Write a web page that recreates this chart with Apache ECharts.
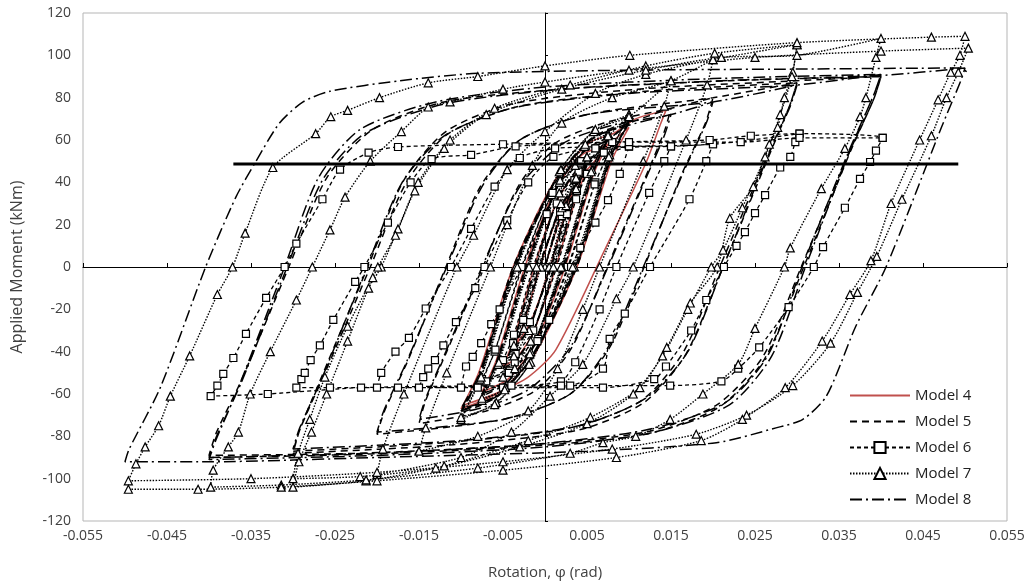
<!DOCTYPE html>
<html><head><meta charset="utf-8">
<script src="https://cdn.jsdelivr.net/npm/echarts/dist/echarts.min.js"></script>
<style>html,body{margin:0;padding:0;background:#fff}#c{width:1035px;height:587px}</style>
</head><body><div id="c"></div>
<script>
const xTicks = [-0.055,-0.045,-0.035,-0.025,-0.015,-0.005,0.005,0.015,0.025,0.035,0.045,0.055];
const modelNames = ['Model 4','Model 5','Model 6','Model 7','Model 8'];
const mpLine = [[-0.0371,48.7],[0.0492,48.7]];

const model4 = [
[0,0],[0.002,25],[0.0035,37],[0.0024,25],[0.0006,0],[-0.0017,-26],[-0.0035,-37],[-0.0024,-25],[-0.0006,0],[0.0017,26],[0.0035,37],
[0.005,46],[0.0037,33],[0.0013,0],[-0.0014,-31],[-0.0034,-43],[-0.005,-47],[-0.0037,-34],[-0.0013,0],[0.0014,31],[0.0034,43],[0.005,46],
[0.0075,58],[0.0058,44],[0.0024,0],[-0.0013,-37],[-0.0044,-53],[-0.0075,-59],[-0.0058,-44],[-0.0024,0],[0.0013,37],[0.0044,53],[0.0075,58],
[0.010,66],[0.0079,50],[0.0038,0],[-0.0012,-41],[-0.0054,-59],[-0.010,-67],[-0.0079,-50],[-0.0038,0],[0.0012,41],[0.0054,59],[0.0081,63],
[0.0108,70],[0.0144,74],[0.0138,68],[0.012,49],[0.0071,8],[0.0013,-39],[-0.002,-52],[-0.006,-60],[-0.0095,-65]
];

const model5 = [
[0,0],[0.002,27],[0.0038,40],[0.0026,27],[0.0007,0],[-0.0019,-29],[-0.0038,-40],[-0.0026,-27],[-0.0007,0],[0.0019,29],[0.0038,40],
[0.005,49],[0.0036,34],[0.0011,0],[-0.0016,-33],[-0.0036,-45],[-0.005,-49],[-0.0036,-34],[-0.0011,0],[0.0016,33],[0.0036,45],[0.005,49],
[0.0075,61],[0.0056,44],[0.0021,0],[-0.0016,-39],[-0.0046,-55],[-0.0075,-61],[-0.0056,-44],[-0.0021,0],[0.0016,39],[0.0046,55],[0.0075,61],
[0.0058,45],[0.0023,0],[-0.0014,-38],[-0.0044,-54],[-0.0075,-60],[-0.0058,-45],[-0.0023,0],[0.0014,38],[0.0044,54],[0.0075,60],
[0.010,69],[0.0077,51],[0.0036,0],[-0.0016,-43],[-0.0056,-61],[-0.010,-69],[-0.0077,-51],[-0.0036,0],[0.0016,43],[0.0056,61],[0.010,69],
[0.0079,52],[0.0038,0],[-0.0014,-42],[-0.0054,-60],[-0.010,-68],[-0.0079,-52],[-0.0038,0],[0.0014,42],[0.0054,60],[0.010,68],
[0.015,75],[0.0142,64],[0.0117,40],[0.0074,0],[0.0032,-38],[-0.001,-58],[-0.007,-68],[-0.015,-74],[-0.0142,-63],[-0.0117,-40],[-0.0074,0],[-0.0032,38],[0.001,58],[0.007,68],[0.015,75],
[0.020,80],[0.0191,68],[0.0163,44],[0.0118,0],[0.0077,-38],[0.003,-60],[-0.005,-72],[-0.020,-79],[-0.0191,-68],[-0.0163,-44],[-0.0118,0],[-0.0077,38],[-0.003,60],[0.005,72],[0.020,80],
[0.030,87],[0.0291,76],[0.0262,50],[0.0208,0],[0.0165,-40],[0.0115,-63],[0.003,-76],[-0.012,-83],[-0.030,-87],[-0.0291,-76],[-0.0262,-50],[-0.0208,0],[-0.0165,40],[-0.0115,63],[-0.003,76],[0.012,83],[0.030,87],
[0.0292,77],[0.0265,51],[0.0212,0],[0.0168,-41],[0.0118,-64],[0.004,-77],[-0.011,-84],[-0.030,-88],[-0.0292,-77],[-0.0265,-51],[-0.0211,0],[-0.0168,41],[-0.0118,64],[-0.004,77],[0.011,84],[0.030,88],
[0.040,90],[0.0391,79],[0.0362,54],[0.0305,0],[0.026,-42],[0.0205,-65],[0.012,-78],[-0.002,-84],[-0.022,-88],[-0.040,-89],[-0.0391,-78],[-0.0362,-54],[-0.0305,0],[-0.026,42],[-0.0205,65],[-0.012,78],[0.002,84],[0.022,88],[0.040,90],
[0.0392,80],[0.0364,55],[0.0308,0],[0.0262,-43],[0.0208,-66],[0.012,-79],[-0.003,-85],[-0.022,-88.5],[-0.040,-90]
];

const model6 = [
[0,0],[0.002,24],[0.0038,36],[0.0026,25],[0.0008,0],[-0.0018,-26],[-0.0038,-36],[-0.0026,-25],[-0.0008,0],[0.0018,26],[0.0038,36],
[0.005,44],[0.0037,32],[0.0014,0],[-0.0014,-30],[-0.0035,-41],[-0.005,-44],[-0.0037,-32],[-0.0014,0],[0.0014,30],[0.0035,41],[0.005,44],
[0.0075,53],[0.006,40],[0.0028,0],[-0.0008,-34],[-0.0042,-49],[-0.0075,-53],[-0.006,-40],[-0.0028,0],[0.0008,34],[0.0042,49],[0.0075,53],
[0.0059,39],[0.0027,0],[-0.0009,-35],[-0.0043,-50],[-0.0075,-54],[-0.0059,-39],[-0.0027,0],[0.0009,35],[0.0043,50],[0.0075,54],
[0.010,57],[0.0089,44],[0.0075,31.6],[0.006,21],[0.0042,9],[0.0031,0],[0.0005,-25],[-0.0036,-45],[-0.007,-54],[-0.010,-57],
[-0.0094,-47],[-0.0086,-42.5],[-0.0076,-36],[-0.0064,-27],[-0.0054,-20],[-0.0028,0],[0.0002,25],[0.004,45],[0.007,54],[0.010,57],
[0.015,57],[0.0142,50],[0.0124,35],[0.0085,0],[0.0065,-20],[0.0036,-45],[0.0019,-54],[-0.004,-56],[-0.015,-57],
[-0.0145,-52],[-0.0139,-48],[-0.0131,-44],[-0.0121,-37],[-0.0106,-26],[-0.0083,-10],[-0.0072,0],[-0.0045,22],[-0.002,40],[0.001,52],[0.006,56],[0.015,57],
[0.020,58],[0.0192,50],[0.0172,32],[0.0125,0],[0.0095,-22],[0.0077,-34],[0.0069,-48],[0.003,-56],[-0.008,-57],[-0.020,-57],
[-0.0195,-50],[-0.0178,-40],[-0.0162,-33.5],[-0.0142,-19.6],[-0.0112,0],[-0.0088,18],[-0.006,38],[-0.003,51.5],[0.0012,56],[0.010,57],[0.020,58],
[0.0303,63],[0.0298,59],[0.0292,52],[0.028,47],[0.0262,34],[0.025,25.5],[0.0238,16.5],[0.0228,10],[0.0213,0],[0.0192,-15.6],[0.0174,-30],[0.0144,-47],[0.013,-53],[0.0069,-57],[-0.005,-57],[-0.0175,-57],[-0.0256,-57],[-0.0296,-57],
[-0.029,-53],[-0.0286,-50],[-0.0279,-44],[-0.0268,-37],[-0.0252,-25],[-0.0226,-7],[-0.0215,0],[-0.0187,21],[-0.016,40],[-0.0135,51],[-0.0088,53],[-0.0035,57],[0.008,59],[0.0196,60],[0.0245,62],[0.0303,63],
[0.0402,61],[0.0394,55],[0.0387,49.6],[0.0375,41.6],[0.0357,28],[0.0331,9.4],[0.032,0],[0.029,-19],[0.0255,-38],[0.023,-48],[0.021,-54],[0.0149,-56],[0.0019,-56],[-0.0219,-57],[-0.033,-60],[-0.0398,-61],
[-0.039,-56],[-0.0383,-50.5],[-0.0371,-43],[-0.0356,-31.6],[-0.0332,-14.6],[-0.031,0],[-0.0296,11],[-0.0265,32],[-0.0244,46],[-0.021,54],[-0.0175,56.7],[-0.005,58],[0.010,59],[0.0233,59],[0.0303,61],[0.0402,61]
];

const model7 = [
[0,0],[0.002,28],[0.0037,42],[0.0025,29],[0.0005,0],[-0.0019,-30],[-0.0037,-42],[-0.0025,-29],[-0.0005,0],[0.0019,30],[0.0037,42],
[0.005,52],[0.0037,37],[0.001,0],[-0.0017,-35],[-0.0036,-48],[-0.005,-52],[-0.0037,-37],[-0.001,0],[0.0017,35],[0.0036,48],[0.005,52],
[0.0075,63],[0.0056,46],[0.002,0],[-0.0017,-40],[-0.0047,-57],[-0.0075,-63],[-0.0056,-46],[-0.002,0],[0.0017,40],[0.0047,57],[0.0075,63],
[0.0055,45],[0.0019,0],[-0.0018,-41],[-0.0048,-58],[-0.0075,-62],[-0.0055,-45],[-0.0019,0],[0.0018,41],[0.0048,58],[0.0075,62],
[0.010,72],[0.0077,53],[0.0035,0],[-0.0017,-45],[-0.0058,-64],[-0.010,-72],[-0.0077,-53],[-0.0035,0],[0.0017,45],[0.0058,64],[0.010,72],
[0.0076,52],[0.0033,0],[-0.0019,-46],[-0.006,-65],[-0.010,-71],[-0.0076,-52],[-0.0033,0],[0.0019,46],[0.006,65],[0.010,71],
[0.015,88],[0.0142,76],[0.0117,50],[0.0065,0],[0.0045,-20],[0.0015,-48],[-0.002,-68],[-0.008,-80],[-0.015,-87],
[-0.0142,-76],[-0.0117,-50],[-0.0065,0],[-0.0045,20],[-0.0015,48],[0.002,68],[0.008,80],[0.015,88],
[0.020,98],[0.0193,86],[0.0168,60],[0.0105,0],[0.0085,-15],[0.0045,-46],[0.0006,-61],[-0.004,-78],[-0.010,-90],[-0.020,-98],
[-0.0193,-86],[-0.0168,-60],[-0.0105,0],[-0.0085,15],[-0.0045,46],[0,64],[0.006,82],[0.012,91],[0.020,98],
[0.030,105],[0.0295,92],[0.0285,80],[0.0277,66],[0.0267,58],[0.0248,38],[0.022,23],[0.0205,0],[0.0173,-17],[0.0145,-38],[0.0113,-57],[0.0054,-71],[-0.002,-82],[-0.012,-94],[-0.0213,-101],[-0.030,-104],
[-0.0293,-92],[-0.0278,-78],[-0.026,-60],[-0.0235,-35],[-0.021,-10],[-0.0195,0],[-0.0175,18],[-0.0151,40],[-0.0113,60],[-0.006,75],[0.003,86],[0.012,95],[0.0202,101],[0.030,105],
[0.0294,90],[0.028,72],[0.0262,52],[0.0235,28],[0.0212,8],[0.0198,0],[0.017,-20],[0.014,-42],[0.0105,-60],[0.005,-74],[-0.003,-85],[-0.013,-95],[-0.022,-99],[-0.030,-100],
[-0.0294,-88],[-0.028,-72],[-0.0262,-52],[-0.0235,-28],[-0.0205,-5],[-0.0199,0],[-0.0178,15],[-0.0155,36],[-0.012,56],[-0.007,72],[0.002,84],[0.012,93],[0.021,99],[0.030,100],
[0.040,108],[0.0394,99],[0.0382,80],[0.0375,71],[0.0357,56],[0.0329,37],[0.0292,9],[0.0285,0],[0.025,-29],[0.023,-46],[0.0188,-60],[0.0149,-72],[0.0108,-80],[0.0069,-83],[0.003,-88],[-0.008,-95],[-0.0213,-100.6],[-0.0314,-103],[-0.0398,-104],
[-0.0395,-96],[-0.0377,-85],[-0.0365,-78],[-0.0351,-60],[-0.0327,-40],[-0.0296,-15.6],[-0.0277,0],[-0.0256,17.5],[-0.0238,33],[-0.0208,50],[-0.0171,64],[-0.0139,75.6],[-0.0113,78],[-0.005,84],[0,87.4],[0.010,93],[0.025,99],[0.040,102],[0.0504,103.4],
[0.0492,92],[0.0478,80],[0.046,62],[0.0425,32],[0.0395,5],[0.0372,-12],[0.034,-36],[0.0295,-56],[0.024,-70],[0.018,-79],[0.008,-86],[-0.005,-92],[-0.020,-97],[-0.035,-100],[-0.0496,-101],
[-0.0487,-93],[-0.0476,-85],[-0.046,-75],[-0.0446,-61],[-0.0423,-42],[-0.039,-13],[-0.0372,0],[-0.0357,16],[-0.0324,47],[-0.0273,63],[-0.0255,71],[-0.0235,74],[-0.0197,80],[-0.0139,87],[-0.008,90],[0,95],[0.0101,100],[0.030,106],[0.046,108.6],[0.050,109],
[0.0494,100],[0.0483,92],[0.0468,79],[0.0446,60],[0.0412,30],[0.0388,3],[0.0363,-13],[0.033,-35],[0.0286,-57],[0.0235,-72],[0.0186,-82],[0.0085,-90],[-0.005,-96],[-0.020,-101],[-0.0314,-104],[-0.0413,-105],[-0.0496,-105]
];

const model8 = [
[0,0],[0.002,26],[0.00375,39],[0.0026,28],[0.0006,0],[-0.0018,-28],[-0.00375,-39],[-0.0026,-28],[-0.0006,0],[0.0018,28],[0.00375,39],
[0.005,48],[0.0037,35],[0.0012,0],[-0.0015,-32],[-0.0035,-44],[-0.005,-48],[-0.0037,-35],[-0.0012,0],[0.0015,32],[0.0035,44],[0.005,48],
[0.0075,60],[0.0057,45],[0.0022,0],[-0.0015,-38],[-0.0045,-54],[-0.0075,-60],[-0.0057,-45],[-0.0022,0],[0.0015,38],[0.0045,54],[0.0075,60],
[0.010,68],[0.0078,52],[0.0037,0],[-0.0015,-42],[-0.0055,-60],[-0.010,-68],[-0.0078,-52],[-0.0037,0],[0.0015,42],[0.0055,60],[0.010,68],
[0.0078,51],[0.0035,0],[-0.0017,-43],[-0.0057,-61],[-0.010,-67],[-0.0079,-51],[-0.0035,0],[0.0017,43],[0.0057,61],[0.010,67],
[0.015,72],[0.0142,62],[0.0118,40],[0.0075,0],[0.003,-38],[-0.002,-58],[-0.008,-67],[-0.015,-72],[-0.0142,-62],[-0.0118,-40],[-0.0075,0],[-0.003,38],[0.002,58],[0.008,67],[0.015,72],
[0.020,78],[0.0192,68],[0.0165,45],[0.0117,0],[0.0075,-38],[0.003,-60],[-0.005,-72],[-0.020,-78],[-0.0192,-68],[-0.0165,-45],[-0.0117,0],[-0.0075,38],[-0.003,60],[0.005,72],[0.020,78],
[0.030,86],[0.0292,76],[0.0265,52],[0.0212,0],[0.017,-40],[0.012,-62],[0.004,-75],[-0.010,-82],[-0.030,-86],[-0.0292,-76],[-0.0265,-52],[-0.0212,0],[-0.017,40],[-0.012,62],[-0.004,75],[0.010,82],[0.030,86],
[0.040,91],[0.0392,82],[0.0365,57],[0.031,0],[0.027,-42],[0.022,-65],[0.013,-78],[0,-85],[-0.020,-89],[-0.040,-91],[-0.0392,-82],[-0.0365,-57],[-0.031,0],[-0.027,42],[-0.022,65],[-0.013,78],[0,85],[0.020,89],[0.040,91],
[0.0391,81],[0.0362,55],[0.0306,0],[0.0265,-42],[0.0215,-64],[0.012,-77],[-0.002,-84],[-0.021,-88],[-0.040,-90],[-0.0391,-80],[-0.0362,-55],[-0.0307,0],[-0.0265,41],[-0.0215,63],[-0.012,77],[0.002,84],[0.021,88],[0.040,90.5],
[0.050,94],[0.0495,88],[0.0472,66],[0.0406,0],[0.037,-28],[0.0335,-61],[0.0307,-72],[0.0275,-76],[0.0204,-83],[0.005,-87],[-0.020,-90],[-0.040,-92],[-0.050,-92],
[-0.0495,-86],[-0.0458,-57],[-0.0404,0],[-0.0368,33],[-0.0344,50],[-0.0316,68],[-0.0288,78],[-0.0256,83],[-0.0173,88],[-0.008,91.5],[0.010,93],[0.030,93.5],[0.0495,94],[0.0505,91]
];

const chart = echarts.init(document.getElementById('c'), null, {renderer: 'canvas'});
const FONT = 'Open Sans';
const black = '#000';
function lineSeries(name, data, lineStyle, extra) {
  return Object.assign({
    name: name, type: 'line', data: data, smooth: 0.25, clip: true,
    symbol: 'none', lineStyle: Object.assign({color: black, width: 1.4}, lineStyle),
    itemStyle: {color: black}, emphasis: {disabled: true}, z: 3
  }, extra || {});
}
const hollow = {color: '#fff', borderColor: black, borderWidth: 1.2};
const noMark = {opacity: 0};
chart.setOption({
  animation: false,
  backgroundColor: '#fff',
  textStyle: {fontFamily: FONT},
  grid: {left: 83, right: 28, top: 13, bottom: 66, show: true, borderColor: '#b5b5b5', borderWidth: 1},
  legend: {
    data: [
      {name: modelNames[0], itemStyle: noMark},
      {name: modelNames[1], itemStyle: noMark},
      {name: modelNames[2]},
      {name: modelNames[3]},
      {name: modelNames[4], itemStyle: noMark}
    ],
    orient: 'vertical', left: 844, top: 383, itemWidth: 60, itemHeight: 14, itemGap: 11,
    textStyle: {fontSize: 15, color: '#222', fontFamily: FONT}, selectedMode: false
  },
  xAxis: [
    {type: 'value', min: -0.055, max: 0.055, position: 'bottom',
     axisLine: {show: false, onZero: false}, axisTick: {show: false}, splitLine: {show: false},
     axisLabel: {customValues: xTicks, formatter: v => v.toFixed(3), fontSize: 14, color: '#404040', margin: 8},
     name: 'Rotation, \u03c6 (rad)', nameLocation: 'middle', nameGap: 44,
     nameTextStyle: {fontSize: 15, color: '#404040'}},
    {type: 'value', min: -0.055, max: 0.055, position: 'top',
     axisLine: {show: true, onZero: true, lineStyle: {color: black, width: 1}},
     axisTick: {show: true, customValues: xTicks, length: 4, lineStyle: {color: black}},
     axisLabel: {show: false}, splitLine: {show: false}}
  ],
  yAxis: [
    {type: 'value', min: -120, max: 120, interval: 20, position: 'left',
     axisLine: {show: false, onZero: false}, axisTick: {show: false}, splitLine: {show: false},
     axisLabel: {fontSize: 14, color: '#404040', margin: 12},
     name: 'Applied Moment (kNm)', nameLocation: 'middle', nameGap: 58, nameRotate: 90,
     nameTextStyle: {fontSize: 16, color: '#404040'}},
    {type: 'value', min: -120, max: 120, interval: 20, position: 'right',
     axisLine: {show: true, onZero: true, lineStyle: {color: black, width: 1}},
     axisTick: {show: true, length: 3, lineStyle: {color: black}},
     axisLabel: {show: false}, splitLine: {show: false}}
  ],
  series: [
    lineSeries('Model 4', model4, {color: '#c0504d', width: 1.5, type: 'solid'}, {itemStyle: {color: '#c0504d'}}),
    lineSeries('Model 5', model5, {type: [7, 5], width: 1.5}),
    lineSeries('Model 6', model6, {type: [4, 3], width: 1.3}, {symbol: 'rect', symbolSize: 7, showSymbol: true, itemStyle: hollow}),
    lineSeries('Model 7', model7, {type: [1.5, 1.5], width: 1.4}, {symbol: 'triangle', symbolSize: 8, showSymbol: true, itemStyle: hollow}),
    lineSeries('Model 8', model8, {type: [12, 4, 2, 4], width: 1.5}),
    {name: 'Mp', type: 'line', data: mpLine, symbol: 'none', lineStyle: {color: black, width: 3}, z: 6, emphasis: {disabled: true}}
  ]
});
</script></body></html>
